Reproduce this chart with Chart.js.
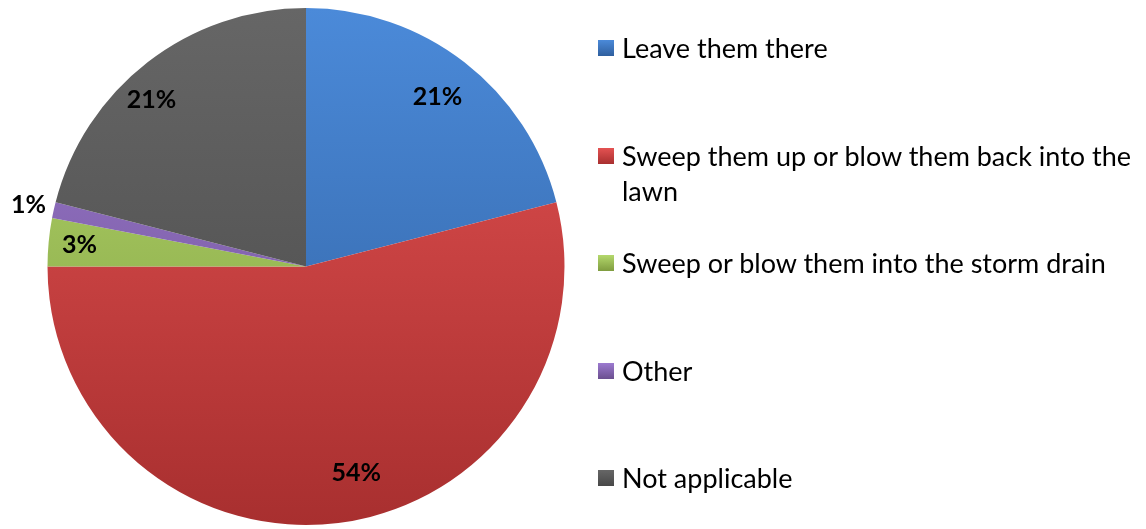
<!DOCTYPE html>
<html>
<head>
<meta charset="utf-8">
<title>Leaves</title>
<script src="https://cdn.jsdelivr.net/npm/chart.js@4"></script>
<style>
  body { margin: 0; background: #fff; width: 1146px; height: 529px; overflow: hidden; position: relative; font-family: Lato, "Open Sans", sans-serif; }
  #chartBox { position: absolute; left: 0; top: 0; width: 612px; height: 529px; }
  #legend { position: absolute; left: 598px; top: 30px; margin: 0; padding: 0; list-style: none; }
  #legend li { height: 107.5px; line-height: 35px; font-size: 27px; color: #000; display: flex; align-items: flex-start; }
  #legend .box { width: 16px; height: 16px; margin-top: 10px; margin-right: 8px; flex: none; }
  #legend .txt { width: 530px; }
</style>
</head>
<body>
<div id="chartBox"><canvas id="pieChart"></canvas></div>
<ul id="legend"></ul>
<script>
const categories = [
    "Leave them there",
    "Sweep them up or blow them back into the lawn",
    "Sweep or blow them into the storm drain",
    "Other",
    "Not applicable"
];
const shares = [21, 54, 3, 1, 21];

// top / bottom colour of each slice's vertical shading
const sliceColours = [
    ["#4b8ad9", "#2f5f9e"],
    ["#e45252", "#a82f2f"],
    ["#b4d86c", "#7f9c3f"],
    ["#9c7ad0", "#6b4f8f"],
    ["#666666", "#484848"]
];

function sliceFill(context) {
    const chart = context.chart;
    const area = chart.chartArea;
    const pair = sliceColours[context.dataIndex];
    if (!area) {
        return pair[0];
    }
    const g = chart.ctx.createLinearGradient(0, area.top, 0, area.bottom);
    g.addColorStop(0, pair[0]);
    g.addColorStop(1, pair[1]);
    return g;
}

// percentage text on each slice
const sliceLabels = {
    id: "sliceLabels",
    afterDatasetsDraw(chart, args, opts) {
        const ctx = chart.ctx;
        const meta = chart.getDatasetMeta(0);
        const values = chart.data.datasets[0].data;
        ctx.save();
        ctx.font = opts.font;
        ctx.fillStyle = opts.color;
        ctx.textAlign = "center";
        ctx.textBaseline = "middle";
        meta.data.forEach(function (arc, i) {
            const p = arc.getProps(["x", "y", "startAngle", "endAngle", "outerRadius"], true);
            const mid = (p.startAngle + p.endAngle) / 2 + (opts.shift[i] || 0) * Math.PI / 180;
            const r = p.outerRadius * opts.radius[i];
            ctx.fillText(values[i] + "%", p.x + Math.cos(mid) * r, p.y + Math.sin(mid) * r);
        });
        ctx.restore();
    }
};

const chart = new Chart(document.getElementById("pieChart"), {
    type: "pie",
    data: {
        labels: categories,
        datasets: [{
            data: shares,
            backgroundColor: sliceFill,
            borderWidth: 0
        }]
    },
    options: {
        responsive: true,
        maintainAspectRatio: false,
        animation: false,
        events: [],
        layout: { padding: { top: 8, bottom: 4 } },
        plugins: {
            legend: { display: false },
            tooltip: { enabled: false },
            sliceLabels: {
                font: "bold 25px Lato",
                color: "#000",
                radius: [0.83, 0.82, 0.88, 1.1, 0.88],
                shift: [0, -6.5, 0, 0, -5]
            }
        }
    },
    plugins: [sliceLabels]
});

const legendList = document.getElementById("legend");
categories.forEach(function (name, i) {
    const li = document.createElement("li");
    const box = document.createElement("span");
    box.className = "box";
    box.style.background = "linear-gradient(" + sliceColours[i][0] + ", " + sliceColours[i][1] + ")";
    const txt = document.createElement("span");
    txt.className = "txt";
    txt.textContent = name;
    li.appendChild(box);
    li.appendChild(txt);
    legendList.appendChild(li);
});
</script>
</body>
</html>
